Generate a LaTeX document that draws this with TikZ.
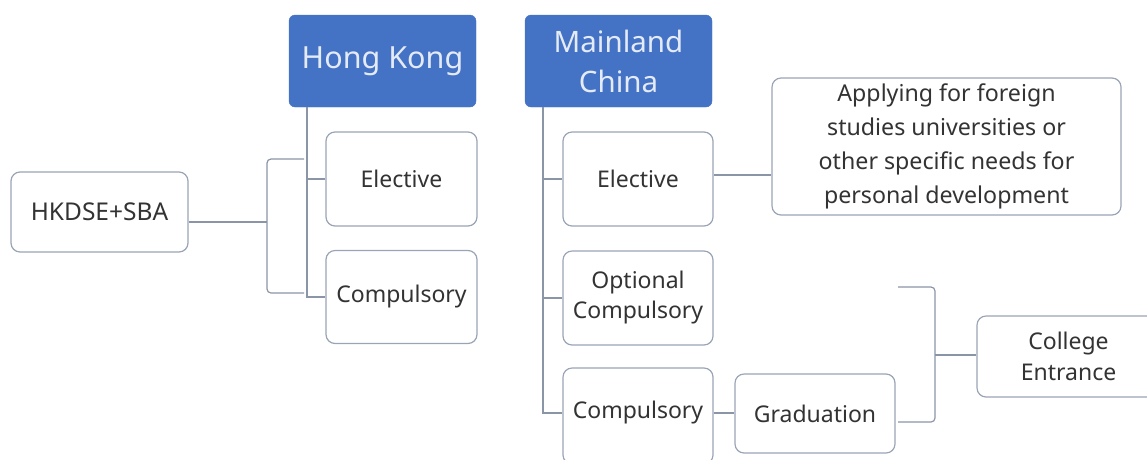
\documentclass[tikz,border=0pt]{standalone}
\usepackage{fontspec}
\setmainfont{Noto Sans}
\definecolor{edge}{HTML}{9AA4B6}
\definecolor{wire}{HTML}{8A95A8}
\definecolor{head}{HTML}{4472C4}
\definecolor{ink}{HTML}{333333}
\definecolor{headink}{HTML}{E4EBF7}
\begin{document}
\begin{tikzpicture}[x=1pt,y=-1pt,
  box/.style={draw=edge, line width=1.2pt, rounded corners=9pt, fill=white,
    text=ink, font=\fontsize{23}{31}\selectfont, align=center, inner sep=0pt},
  headbox/.style={draw=head, fill=head, rounded corners=6pt, text=headink,
    font=\fontsize{29.5}{40}\selectfont, align=center, inner sep=0pt},
  wire/.style={draw=wire, line width=1.2pt},
  bracket/.style={wire, rounded corners=4pt}]
\useasboundingbox (0,0) rectangle (1147,459);
\clip (0,0) rectangle (1147,459);
% Hong Kong side
\node[headbox, minimum width=187pt, minimum height=92pt, font=\fontsize{30.5}{40}\selectfont] (hk) at (382.5,61) {Hong Kong};
\node[box, minimum width=151pt, minimum height=94pt] (hke) at (401.5,179) {Elective};
\node[box, minimum width=151pt, minimum height=93pt] (hkc) at (401.5,297) {Compulsory};
\node[box, minimum width=177pt, minimum height=80pt, font=\fontsize{24.5}{31}\selectfont] (dse) at (99.5,212) {HKDSE+SBA};
\coordinate (hkx) at (307,0);
\draw[wire] (hkx |- hk.south) -- (hkx |- hkc.west) -- (hkc.west);
\draw[wire] (hkx |- hke.west) -- (hke.west);
\coordinate (bt) at (304,159);
\coordinate (bb) at (304,293);
\coordinate (bm) at (267,222);
\draw[bracket] (bt) -- (bm |- bt) -- (bm |- bb) -- (bb);
\draw[wire] (bm -| dse.east) -- (bm);
% Mainland side
\node[headbox, minimum width=187pt, minimum height=92pt] (mc) at (618.5,61) {Mainland\\China};
\node[box, minimum width=150pt, minimum height=94pt] (me) at (638,179) {Elective};
\node[box, minimum width=150pt, minimum height=94pt, font=\fontsize{23}{30}\selectfont] (mo) at (638,298) {Optional\\Compulsory};
\node[box, minimum width=150pt, minimum height=96pt] (mcp) at (638,416) {};
\coordinate (my) at (0,413);
\node[text=ink, font=\fontsize{23}{31}\selectfont, inner sep=0pt] (mct) at (mcp |- my) {Compulsory};
\node[box, minimum width=160pt, minimum height=79pt] (grad) at (815,413.5) {Graduation};
\node[box, minimum width=349pt, minimum height=137pt, font=\fontsize{23.2}{34}\selectfont] (app) at (946.5,146.5)
  {Applying for foreign\\studies universities or\\other specific needs for\\personal development};
\node[box, minimum width=183pt, minimum height=81pt] (ce) at (1068.5,356.5) {College\\Entrance};
\coordinate (mx) at (543,0);
\draw[wire] (mx |- mc.south) -- (mx |- my) -- (my -| mcp.west);
\draw[wire] (mx |- me.west) -- (me.west);
\draw[wire] (mx |- mo.west) -- (mo.west);
\draw[wire] (my -| mcp.east) -- (my -| grad.west);
\coordinate (ay) at (0,175);
\draw[wire] (ay -| me.east) -- (ay -| app.west);
\coordinate (ct) at (898,287);
\coordinate (cb) at (898,422);
\coordinate (cx) at (935,355);
\draw[bracket] (ct) -- (cx |- ct) -- (cx |- cb) -- (cb);
\draw[wire] (cx) -- (cx -| ce.west);
\end{tikzpicture}
\end{document}
